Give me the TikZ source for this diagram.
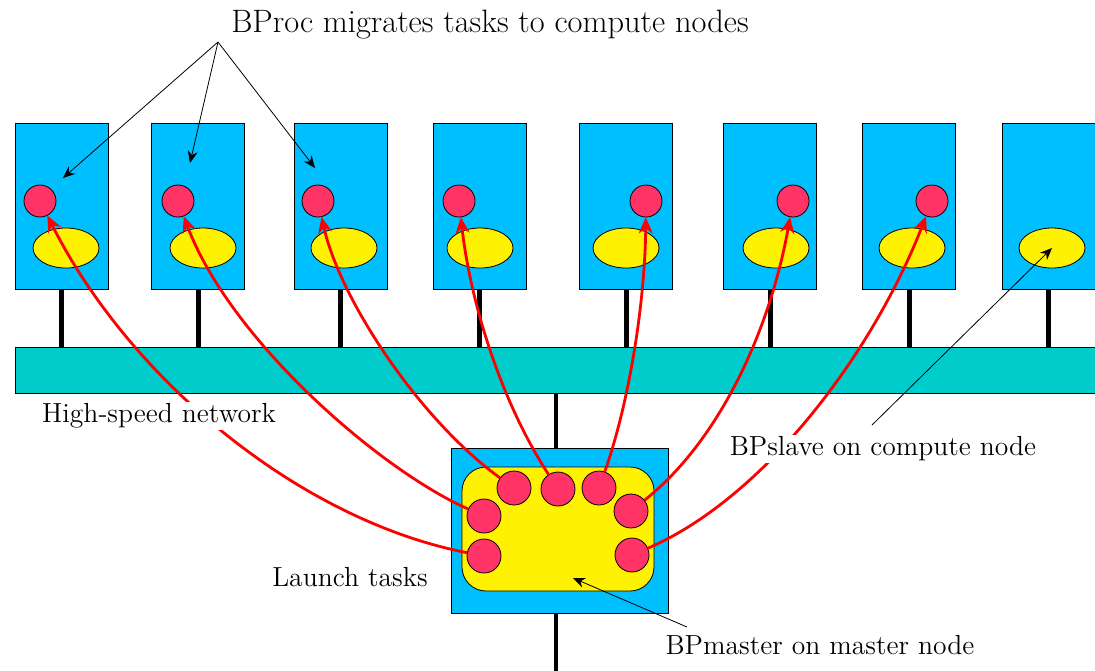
\documentclass[tikz,border=0pt]{standalone}
\usetikzlibrary{arrows.meta, shapes.geometric}
\definecolor{nodeblue}{RGB}{0,191,255}
\definecolor{netteal}{RGB}{0,204,204}
\definecolor{taskred}{RGB}{255,51,102}
\begin{document}
\begin{tikzpicture}[x=0.5pt, y=-0.5pt,
  box/.style = {draw, fill=nodeblue, minimum width=46.5pt, minimum height=83pt, inner sep=0pt},
  net/.style = {draw, fill=netteal, minimum width=542.5pt, minimum height=23pt, inner sep=0pt},
  pool/.style = {draw, fill=yellow, rounded corners=12pt, minimum width=96pt, minimum height=62pt, inner sep=0pt},
  slave/.style = {draw, ellipse, fill=yellow, minimum width=33pt, minimum height=20pt, inner sep=0pt},
  task/.style = {draw, circle, fill=taskred, minimum size=16pt, inner sep=0pt},
  mtask/.style = {task, minimum size=17pt},
  post/.style = {line width=2.5pt},
  mig/.style = {->, >={Stealth[length=8pt, width=7pt]}, red, line width=1.4pt},
  note/.style = {->, >={Stealth[length=6pt, width=5pt]}, thin},
  txt/.style = {fill=white, inner sep=1pt, font=\fontsize{13.8}{16}\selectfont}]
\useasboundingbox (0,0) rectangle (1095,670);

% compute nodes
\node[box] (n1) at (61.5,206) {};
\node[box] (n2) at (198,206) {};
\node[box] (n3) at (340.5,206) {};
\node[box] (n4) at (479.5,206) {};
\node[box] (n5) at (626,206) {};
\node[box] (n6) at (770,206) {};
\node[box] (n7) at (909,206) {};
\node[box] (n8) at (1048.5,206) {};

\node[net] (net) at (557.5,370) {};

\draw[post] (n1.south) -- (n1.south |- net.north);
\draw[post] (n2.south) -- (n2.south |- net.north);
\draw[post] (n3.south) -- (n3.south |- net.north);
\draw[post] (n4.south) -- (n4.south |- net.north);
\draw[post] (n5.south) -- (n5.south |- net.north);
\draw[post] (n6.south) -- (n6.south |- net.north);
\draw[post] (n7.south) -- (n7.south |- net.north);
\draw[post] (n8.south) -- (n8.south |- net.north);

% slaves and migrated tasks
\node[slave] (e1) at (66,248) {};
\node[slave] (e2) at (203,248) {};
\node[slave] (e3) at (344,248) {};
\node[slave] (e4) at (480,248) {};
\node[slave] (e5) at (626,248) {};
\node[slave] (e6) at (776,248) {};
\node[slave] (e7) at (912,248) {};
\node[slave] (e8) at (1052,248) {};

\node[task] (c1) at (40,201) {};
\node[task] (c2) at (178,201) {};
\node[task] (c3) at (318,201) {};
\node[task] (c4) at (459,201) {};
\node[task] (c5) at (646,201) {};
\node[task] (c6) at (793,201) {};
\node[task] (c7) at (932,201) {};

% master node
\coordinate (down) at (556,690);
\node[box, minimum width=108.5pt, minimum height=82.5pt] (master) at (559.5,530.5) {};
\draw[line width=2pt] (down |- master.north) -- (down |- net.south);
\draw[line width=2pt] (down |- master.south) -- (down);
\node[pool] (pool) at (558,529) {};

\node[mtask] (t1) at (484,556) {};
\node[mtask] (t2) at (484,516) {};
\node[mtask] (t3) at (514,488) {};
\node[mtask] (t4) at (558,489) {};
\node[mtask] (t5) at (599,488) {};
\node[mtask] (t6) at (631,511) {};
\node[mtask] (t7) at (632,555) {};

\draw[mig] (t1) .. controls (300,520) and (130,380) .. (c1);
\draw[mig] (t2) .. controls (380,470) and (230,340) .. (c2);
\draw[mig] (t3) .. controls (420,420) and (340,300) .. (c3);
\draw[mig] (t4) .. controls (500,400) and (470,300) .. (c4);
\draw[mig] (t5) .. controls (630,400) and (645,300) .. (c5);
\draw[mig] (t6) .. controls (720,440) and (770,330) .. (c6);
\draw[mig] (t7) .. controls (760,500) and (870,360) .. (c7);

% labels
\node[txt, font=\fontsize{16.2}{19}\selectfont] (bproc) at (490,25) {BProc migrates tasks to compute nodes};
\node[txt] (speed) at (159,416) {High-speed network};
\node[txt] (bpslave) at (883,449) {BPslave on compute node};
\node[txt] (launch) at (350,577) {Launch tasks};
\node[txt] (bpmaster) at (820,645) {BPmaster on master node};

\coordinate (fan) at (218,42);
\coordinate (tip1) at (63,178);
\coordinate (tip2) at (190,163);
\coordinate (tip3) at (315,168);
\draw[note] (fan) -- (tip1);
\draw[note] (fan) -- (tip2);
\draw[note] (fan) -- (tip3);

\coordinate (slavefoot) at (872,425);
\draw[note] (slavefoot) -- (e8.center);
\coordinate (masterfoot) at (687,627);
\coordinate (pooltip) at (573,578);
\draw[note] (masterfoot) -- (pooltip);

\end{tikzpicture}
\end{document}
